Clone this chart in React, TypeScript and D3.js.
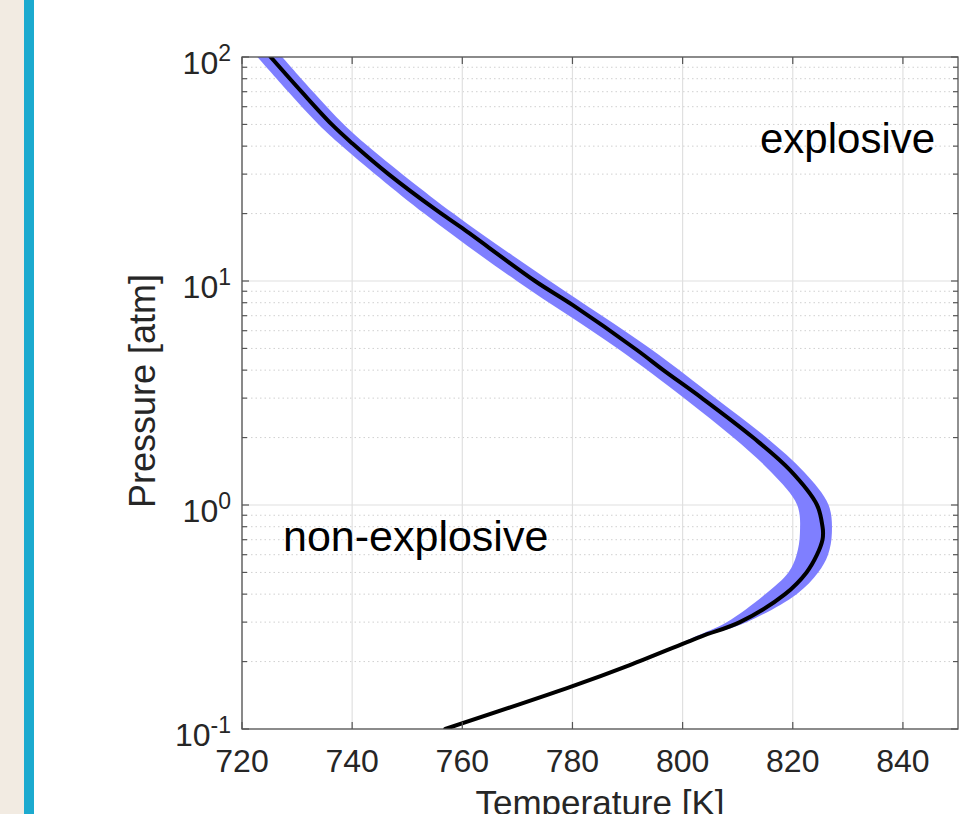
import React from "react";
import * as d3 from "d3";

// Black curve: pressure [atm] and temperature [K]
const linePressure = [100, 70, 50, 41.2, 30, 20.7, 17.2, 10, 7.82, 4.92, 4.0, 3.0, 2.0, 1.43, 1.0, 0.8, 0.75, 0.7, 0.6, 0.5, 0.4, 0.3, 0.258, 0.193, 0.155, 0.1];
const lineTemp = [725.2, 730.8, 736.3, 740.0, 746.6, 755.3, 760.0, 773.2, 780.0, 791.7, 796.5, 803.5, 812.8, 819.5, 824.4, 825.4, 825.5, 825.4, 824.4, 822.5, 818.6, 810.4, 803.2, 790.4, 779.9, 756.9];

// Uncertainty band
const bandPressure = [100, 70, 50, 40, 20, 10, 5, 3, 2, 1.4, 1, 0.75, 0.6, 0.5, 0.4, 0.3, 0.26, 0.24];
const bandLow = [722.8, 728.4, 733.9, 738.2, 753.1, 769.9, 788.2, 800.3, 809.2, 816.1, 820.8, 821.3, 820.7, 819.2, 815.0, 808.0, 802.5, 799.5];
const bandHigh = [727.3, 732.9, 738.5, 742.9, 758.4, 775.9, 794.1, 806.0, 815.2, 822.1, 826.5, 827.1, 826.4, 824.6, 820.7, 811.6, 804.0, 799.5];

const xTicks = [720, 740, 760, 780, 800, 820, 840];
const yMajor = [0.1, 1, 10, 100];
const yExponents = ["-1", "0", "1", "2"];

const W = 973;
const H = 814;
const L = 242, R = 958, T = 57, B = 729;

export default function App() {
  const x = d3.scaleLinear().domain([720, 850]).range([L, R]);
  const y = d3.scaleLog().domain([0.1, 100]).range([B, T]);

  const yMinor: number[] = [];
  [0.1, 1, 10].forEach((d) => {
    for (let k = 2; k <= 9; k++) yMinor.push(d * k);
  });

  const lineData = linePressure.map((p, i) => ({ p, t: lineTemp[i] }));
  const bandData = bandPressure.map((p, i) => ({ p, lo: bandLow[i], hi: bandHigh[i] }));

  const line = d3
    .line<{ p: number; t: number }>()
    .x((d) => x(d.t))
    .y((d) => y(d.p))
    .curve(d3.curveCatmullRom.alpha(0.5));

  const area = d3
    .area<{ p: number; lo: number; hi: number }>()
    .y((d) => y(d.p))
    .x0((d) => x(d.lo))
    .x1((d) => x(d.hi))
    .curve(d3.curveCatmullRom.alpha(0.5));

  const axisColor = "#555555";
  const textColor = "#262626";
  const font = "'Liberation Sans', Arial, Helvetica, sans-serif";

  return (
    <svg
      width={W}
      height={H}
      style={{ position: "absolute", left: 0, top: 0, background: "#ffffff" }}
      fontFamily={font}
    >
      <rect x={0} y={0} width={W} height={H} fill="#ffffff" />
      <rect x={0} y={0} width={24} height={H} fill="#f2ebe2" />
      <rect x={24} y={0} width={10} height={H} fill="#1caacf" />

      <defs>
        <clipPath id="plotClip">
          <rect x={L} y={T} width={R - L} height={B - T} />
        </clipPath>
      </defs>

      {/* grid */}
      <g>
        {yMinor.map((v) => (
          <line
            key={"gm" + v}
            x1={L}
            x2={R}
            y1={y(v)}
            y2={y(v)}
            stroke="#d0d0d0"
            strokeWidth={1}
            strokeDasharray="1.5,3"
          />
        ))}
        {yMajor.map((v) => (
          <line key={"gy" + v} x1={L} x2={R} y1={y(v)} y2={y(v)} stroke="#e0e0e0" strokeWidth={1.2} />
        ))}
        {xTicks.map((v) => (
          <line key={"gx" + v} x1={x(v)} x2={x(v)} y1={T} y2={B} stroke="#e0e0e0" strokeWidth={1.2} />
        ))}
      </g>

      <g clipPath="url(#plotClip)">
        <path d={area(bandData) || ""} fill="#7f7fff" stroke="none" />
        <path d={line(lineData) || ""} fill="none" stroke="#000000" strokeWidth={4} strokeLinecap="round" />
      </g>

      {/* axes box */}
      <rect x={L} y={T} width={R - L} height={B - T} fill="none" stroke={axisColor} strokeWidth={1.3} />

      {/* ticks */}
      <g stroke={axisColor} strokeWidth={1.2}>
        {xTicks.map((v) => (
          <g key={"tx" + v}>
            <line x1={x(v)} x2={x(v)} y1={B} y2={B - 7} />
            <line x1={x(v)} x2={x(v)} y1={T} y2={T + 7} />
          </g>
        ))}
        {yMajor.map((v) => (
          <g key={"ty" + v}>
            <line x1={L} x2={L + 7} y1={y(v)} y2={y(v)} />
            <line x1={R} x2={R - 7} y1={y(v)} y2={y(v)} />
          </g>
        ))}
        {yMinor.map((v) => (
          <g key={"tm" + v}>
            <line x1={L} x2={L + 5} y1={y(v)} y2={y(v)} />
            <line x1={R} x2={R - 5} y1={y(v)} y2={y(v)} />
          </g>
        ))}
      </g>

      {/* tick labels */}
      <g fill={textColor}>
        {xTicks.map((v) => (
          <text key={"lx" + v} x={x(v)} y={B + 43} fontSize={32} textAnchor="middle">
            {v}
          </text>
        ))}
        {yMajor.map((v, i) => (
          <text key={"ly" + v} x={231} y={y(v) + 17} fontSize={32} textAnchor="end">
            10
            <tspan fontSize={23} dy={-13}>
              {yExponents[i]}
            </tspan>
          </text>
        ))}
      </g>

      {/* axis labels */}
      <text x={(L + R) / 2} y={815} fontSize={35} textAnchor="middle" fill={textColor}>
        Temperature [K]
      </text>
      <text
        transform={`translate(155, ${(T + B) / 2 - 2}) rotate(-90)`}
        fontSize={36}
        textAnchor="middle"
        fill={textColor}
      >
        Pressure [atm]
      </text>

      {/* annotations */}
      <text x={760} y={153} fontSize={42} fill="#000000">
        explosive
      </text>
      <text x={283} y={551} fontSize={43} fill="#000000">
        non-explosive
      </text>
    </svg>
  );
}
